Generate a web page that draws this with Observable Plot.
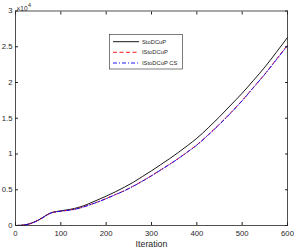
<!DOCTYPE html>
<html>
<head>
<meta charset="utf-8">
<script src="https://cdn.jsdelivr.net/npm/d3@7"></script>
<script src="https://cdn.jsdelivr.net/npm/@observablehq/plot@0.6"></script>
<style>
  html, body { margin: 0; padding: 0; background: white; }
  #chart { width: 294px; height: 251px; }
</style>
</head>
<body>
<div id="chart"></div>
<script>
const iterations = [0,10,20,30,40,50,60,70,80,90,100,120,140,160,180,200,220,240,260,280,300,320,340,360,380,400,425,450,475,500,525,550,575,600];
const stoDCuP    = [0,0.002,0.008,0.022,0.045,0.075,0.112,0.152,0.182,0.195,0.205,0.225,0.255,0.30,0.355,0.41,0.47,0.535,0.605,0.685,0.765,0.85,0.935,1.025,1.12,1.22,1.365,1.52,1.685,1.85,2.03,2.215,2.42,2.63];
const iStoDCuP   = [0,0.002,0.008,0.021,0.044,0.073,0.109,0.149,0.179,0.192,0.201,0.216,0.242,0.282,0.327,0.377,0.432,0.487,0.552,0.622,0.697,0.777,0.857,0.942,1.032,1.127,1.268,1.418,1.578,1.748,1.933,2.118,2.32,2.522];
const iStoDCuPCS = [0,0.002,0.008,0.021,0.043,0.072,0.108,0.148,0.178,0.191,0.2,0.215,0.24,0.28,0.325,0.375,0.43,0.485,0.55,0.62,0.695,0.775,0.855,0.94,1.03,1.125,1.265,1.415,1.575,1.745,1.93,2.115,2.315,2.515];
const seriesNames = ["StoDCuP", "IStoDCuP", "IStoDCuP CS"];
const seriesColors = ["#000000", "#ff0000", "#0000ff"];
const seriesDash = [null, "4,2.5", "4,2,1,2"];
const xTicks = [0,100,200,300,400,500,600];
const yTicks = [0,0.5,1,1.5,2,2.5,3];
const yTickLabels = ["0","0.5","1","1.5","2","2.5","3"];
const xLabel = "Iteration";
const exponentLabel = "×10";
const exponentPower = "4";

const allSeries = [stoDCuP, iStoDCuP, iStoDCuPCS];
const rows = allSeries.map(vals => iterations.map((it, i) => ({x: it, y: vals[i]})));
const axisColor = "#262626";

const lineMarks = rows.map((r, k) => Plot.line(r, {
  x: "x", y: "y", stroke: seriesColors[k], strokeWidth: 0.9, curve: "monotone-x",
  strokeDasharray: seriesDash[k] || undefined
}));

const chart = Plot.plot({
  width: 294, height: 251,
  marginLeft: 15, marginRight: 7, marginTop: 10.5, marginBottom: 26,
  style: {fontFamily: "'Liberation Sans', Arial, sans-serif", fontSize: "8px", color: axisColor, background: "white", overflow: "visible"},
  x: {domain: [0, 600]},
  y: {domain: [0, 3]},
  marks: [
    ...lineMarks,
    Plot.frame({stroke: axisColor, strokeWidth: 0.8}),
    Plot.axisX(xTicks, {anchor: "bottom", tickSize: -3, tickFormat: () => "", label: null, stroke: axisColor}),
    Plot.axisX(xTicks, {anchor: "top", tickSize: -3, tickFormat: () => "", label: null, stroke: axisColor}),
    Plot.axisY(yTicks, {anchor: "left", tickSize: -3, tickFormat: () => "", label: null, stroke: axisColor}),
    Plot.axisY(yTicks, {anchor: "right", tickSize: -3, tickFormat: () => "", label: null, stroke: axisColor}),
    Plot.axisX(xTicks, {anchor: "bottom", tickSize: 0, tickPadding: 5, label: null, fill: axisColor, fontSize: 7.7}),
    Plot.axisY(yTicks, {anchor: "left", tickSize: 0, tickPadding: 3, label: null, fill: axisColor, fontSize: 7.7,
      tickFormat: d => yTickLabels[yTicks.indexOf(d)]}),
    Plot.text([xLabel], {frameAnchor: "bottom", dy: 21, fontSize: 8.8, fill: axisColor}),
    Plot.text([exponentLabel], {frameAnchor: "top-left", dx: 1, dy: -5, textAnchor: "start", fontSize: 6.5, fill: axisColor}),
    Plot.text([exponentPower], {frameAnchor: "top-left", dx: 12.5, dy: -8, textAnchor: "start", fontSize: 5.5, fill: axisColor})
  ]
});
document.getElementById("chart").appendChild(chart);

// Legend inside the plot (MATLAB-style box)
const svg = d3.select(chart);
const lg = svg.append("g").attr("font-family", "'Liberation Sans', Arial, sans-serif")
  .attr("font-size", 5.8).attr("text-anchor", "start");
lg.append("rect").attr("x", 109.5).attr("y", 34.5).attr("width", 73).attr("height", 34.5)
  .attr("fill", "white").attr("stroke", axisColor).attr("stroke-width", 0.6);
const rowY = [41.7, 52.3, 63];
seriesNames.forEach((name, k) => {
  lg.append("line").attr("x1", 113).attr("x2", 139).attr("y1", rowY[k]).attr("y2", rowY[k])
    .attr("stroke", seriesColors[k]).attr("stroke-width", 0.9)
    .attr("stroke-dasharray", seriesDash[k]);
  lg.append("text").attr("x", 142).attr("y", rowY[k]).attr("dy", "0.35em")
    .attr("text-anchor", "start").attr("fill", axisColor).text(name);
});
</script>
</body>
</html>
